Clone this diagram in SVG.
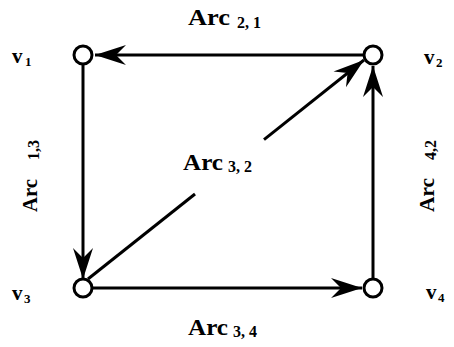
<svg xmlns="http://www.w3.org/2000/svg" width="454" height="347" viewBox="0 0 454 347">
<style>
.edge{stroke:#000;stroke-width:3;fill:none}
.node{fill:#fff;stroke:#000;stroke-width:3}
.lbl{font-family:"Liberation Serif","Times New Roman",serif;font-weight:bold;fill:#000}
.arc{font-size:24px}
.arcv{font-size:22px}
.sub{font-size:16px}
.v{font-size:21px}
.vs{font-size:13px}
</style>
<defs>
<marker id="ah" markerUnits="userSpaceOnUse" viewBox="-32 -11 33 22" refX="0" refY="0" markerWidth="33" markerHeight="22" orient="auto">
<path d="M0,0 L-31,-10 L-21,0 L-31,10 Z" fill="#000"/>
</marker>
</defs>
<g id="connectors">
<line class="edge" x1="363" y1="55" x2="95" y2="55" marker-end="url(#ah)"/>
<line class="edge" x1="83" y1="65" x2="83" y2="279" marker-end="url(#ah)"/>
<line class="edge" x1="93" y1="288" x2="362" y2="288" marker-end="url(#ah)"/>
<line class="edge" x1="373" y1="278" x2="373" y2="66" marker-end="url(#ah)"/>
<line class="edge" x1="88" y1="279" x2="195" y2="194"/>
<line class="edge" x1="264" y1="139.6" x2="364" y2="60" marker-end="url(#ah)"/>
</g>
<g id="v1">
<circle class="node" cx="83" cy="55" r="9"/>
<text class="lbl v" x="12" y="63">v</text><text class="lbl vs" x="25" y="66">1</text>
</g>
<g id="v2">
<circle class="node" cx="373" cy="55" r="9"/>
<text class="lbl v" x="424" y="64">v</text><text class="lbl vs" x="436" y="67">2</text>
</g>
<g id="v3">
<circle class="node" cx="83" cy="288" r="9"/>
<text class="lbl v" x="12" y="300">v</text><text class="lbl vs" x="24" y="303">3</text>
</g>
<g id="v4">
<circle class="node" cx="373" cy="288" r="9"/>
<text class="lbl v" x="426" y="299">v</text><text class="lbl vs" x="438" y="302">4</text>
</g>
<g id="labels">
<text class="lbl arc" x="188" y="25" textLength="42" lengthAdjust="spacingAndGlyphs">Arc</text>
<text class="lbl sub" x="237" y="28">2, 1</text>
<text class="lbl arc" x="183" y="170" textLength="40" lengthAdjust="spacingAndGlyphs">Arc</text>
<text class="lbl sub" x="228" y="172">3, 2</text>
<text class="lbl arc" x="188" y="335" textLength="40" lengthAdjust="spacingAndGlyphs">Arc</text>
<text class="lbl sub" x="233" y="337">3, 4</text>
<g transform="translate(37,212) rotate(-90)">
<text class="lbl arcv" x="0" y="0" textLength="33" lengthAdjust="spacingAndGlyphs">Arc</text>
<text class="lbl sub" x="52" y="2">1,3</text>
</g>
<g transform="translate(434,212) rotate(-90)">
<text class="lbl arcv" x="0" y="0" textLength="34" lengthAdjust="spacingAndGlyphs">Arc</text>
<text class="lbl sub" x="52" y="2">4,2</text>
</g>
</g>
</svg>
